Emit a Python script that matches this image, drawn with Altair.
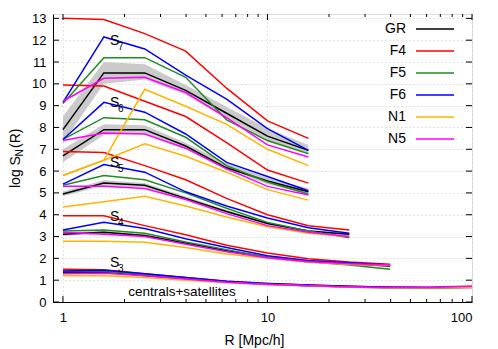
import altair as alt
import pandas as pd
import numpy as np

# ---------------- data ----------------
R = [1.0, 1.585, 2.512, 3.981, 6.310, 10.0, 15.85, 25.12, 39.81, 63.10, 100.0]
MODELS = ["GR", "F4", "F5", "F6", "N1", "N5"]
COLORS = ["#000000", "#ff0000", "#228b22", "#0000ff", "#ffb400", "#ff00ff"]
GROUPS = ["S3", "S4", "S5", "S6", "S7"]

# S7 (R = 1 .. 15.85)
S7_GR = [7.9, 10.5, 10.5, 9.7, 8.65, 7.6, 6.95]
S7_F4 = [13.0, 12.95, 12.3, 11.5, 9.8, 8.3, 7.5]
S7_F5 = [9.1, 11.2, 11.2, 10.3, 8.35, 7.4, 6.8]
S7_F6 = [9.15, 12.15, 11.6, 10.4, 9.3, 7.95, 6.95]
S7_N1 = [5.8, 6.5, 9.75, 8.97, 8.14, 7.0, 6.25]
S7_N5 = [9.2, 10.25, 10.3, 9.6, 8.45, 7.2, 6.65]
S7_LO = [7.3, 10.0, 10.2, 9.5, 8.4, 7.35, 6.75]
S7_HI = [8.5, 11.0, 10.9, 9.95, 8.95, 7.95, 7.2]

# S6 (R = 1 .. 15.85)
S6_GR = [6.7, 7.9, 7.9, 7.15, 6.15, 5.55, 5.05]
S6_F4 = [9.95, 9.9, 9.2, 8.5, 7.3, 6.05, 5.45]
S6_F5 = [7.45, 8.45, 8.35, 7.55, 6.25, 5.5, 4.95]
S6_F6 = [7.45, 9.15, 8.7, 7.7, 6.4, 5.75, 5.1]
S6_N1 = [5.8, 6.5, 7.25, 6.68, 5.95, 5.15, 4.67]
S6_N5 = [7.4, 7.75, 7.7, 7.05, 6.1, 5.3, 4.9]
S6_LO = [6.4, 7.65, 7.7, 7.0, 6.05, 5.4, 4.95]
S6_HI = [7.0, 8.15, 8.1, 7.3, 6.35, 5.7, 5.2]

# S5 (R = 1 .. 25.12)
S5_GR = [4.95, 5.45, 5.35, 4.75, 4.15, 3.6, 3.25, 3.1]
S5_F4 = [6.9, 6.85, 6.25, 5.6, 4.75, 4.0, 3.5, 3.3]
S5_F5 = [5.35, 5.8, 5.6, 5.0, 4.3, 3.65, 3.25, 2.95]
S5_F6 = [5.4, 6.3, 5.95, 5.05, 4.4, 3.85, 3.4, 3.15]
S5_N1 = [4.35, 4.6, 4.85, 4.4, 3.9, 3.45, 3.15, 3.0]
S5_N5 = [5.3, 5.3, 5.2, 4.7, 4.05, 3.5, 3.2, 3.0]
S5_LO = [4.85, 5.33, 5.25, 4.67, 4.08, 3.54, 3.2, 3.03]
S5_HI = [5.07, 5.58, 5.45, 4.83, 4.22, 3.66, 3.3, 3.17]

# S4 (R = 1 .. 39.81)
S4_GR = [3.1, 3.2, 3.05, 2.7, 2.35, 2.05, 1.85, 1.75, 1.65]
S4_F4 = [3.95, 3.95, 3.5, 3.08, 2.6, 2.25, 1.98, 1.83, 1.73]
S4_F5 = [3.25, 3.3, 3.15, 2.75, 2.4, 2.05, 1.85, 1.7, 1.5]
S4_F6 = [3.3, 3.65, 3.37, 2.9, 2.5, 2.12, 1.9, 1.8, 1.7]
S4_N1 = [2.78, 2.78, 2.74, 2.5, 2.2, 2.0, 1.82, 1.72, 1.68]
S4_N5 = [3.2, 3.1, 3.0, 2.65, 2.3, 2.03, 1.85, 1.75, 1.7]
S4_LO = [3.03, 3.13, 2.99, 2.65, 2.31, 2.01, 1.81, 1.7, 1.59]
S4_HI = [3.17, 3.27, 3.11, 2.75, 2.39, 2.09, 1.89, 1.8, 1.71]

# S3 (R = 1 .. 100), centrals+satellites
S3_GR = [1.35, 1.38, 1.22, 1.06, 0.92, 0.82, 0.75, 0.70, 0.66, 0.65, 0.70]
S3_F4 = [1.50, 1.48, 1.30, 1.12, 0.95, 0.85, 0.78, 0.72, 0.68, 0.66, 0.70]
S3_F5 = [1.40, 1.40, 1.25, 1.08, 0.92, 0.82, 0.75, 0.69, 0.64, 0.63, 0.68]
S3_F6 = [1.42, 1.45, 1.30, 1.12, 0.95, 0.85, 0.78, 0.72, 0.68, 0.66, 0.70]
S3_N1 = [1.20, 1.20, 1.12, 1.00, 0.88, 0.80, 0.74, 0.68, 0.64, 0.64, 0.68]
S3_N5 = [1.30, 1.32, 1.20, 1.05, 0.90, 0.80, 0.74, 0.69, 0.67, 0.66, 0.72]
S3_LO = [1.30, 1.33, 1.17, 1.02, 0.88, 0.78, 0.71, 0.66, 0.61, 0.58, 0.58]
S3_HI = [1.40, 1.43, 1.27, 1.10, 0.96, 0.86, 0.79, 0.74, 0.71, 0.72, 0.80]

LABEL_R = 1.697
LABEL_Y = {"S3": 1.78, "S4": 3.89, "S5": 6.36, "S6": 9.12, "S7": 11.96}
CS_TEXT = "centrals+satellites"

# ---------------- tables ----------------
g = globals()
rows, band = [], []
for grp in GROUPS:
    for m in MODELS:
        vals = g[f"{grp}_{m}"]
        for r, v in zip(R, vals):
            rows.append({"group": grp, "model": m, "R": r, "v": v})
    for r, lo, hi in zip(R, g[f"{grp}_LO"], g[f"{grp}_HI"]):
        band.append({"group": grp, "R": r, "lo": lo, "hi": hi})
df = pd.DataFrame(rows)
dband = pd.DataFrame(band)

W, H = 419, 288
FONT = "Liberation Sans"

xscale = alt.Scale(type="log", domain=[0.894, 100], nice=False)
yscale = alt.Scale(domain=[0, 13.2], nice=False, zero=False)

xaxis = alt.Axis(values=[1, 10, 100], format=".0f", ticks=False, tickSize=0,
                 labelPadding=9, labelFontSize=13, labelColor="black",
                 grid=True, gridColor="#c8c8c8", gridDash=[1, 3],
                 domainColor="black", title="R [Mpc/h]", titleFontSize=14,
                 titleFontWeight="normal", titleColor="black",
                 titleX=201, titleY=38, titleBaseline="middle", labelFont=FONT,
                 titleFont=FONT)
yaxis = alt.Axis(values=list(range(0, 14)), ticks=False, tickSize=0,
                 labelPadding=7, labelFontSize=13, labelColor="black",
                 grid=True, gridColor="#c8c8c8", gridDash=[1, 3],
                 domainColor="black", title=None, labelFont=FONT)

X = lambda f: alt.X(f, type="quantitative", scale=xscale, axis=xaxis)
Y = lambda f: alt.Y(f, type="quantitative", scale=yscale, axis=yaxis)

layers = []
layers.append(
    alt.Chart(dband).mark_area(color="#c4c4c4", opacity=0.9).encode(
        x=X("R"), y=Y("lo"), y2="hi", detail="group:N")
)
for m, c in zip(MODELS, COLORS):
    layers.append(
        alt.Chart(df[df.model == m]).mark_line(color=c, strokeWidth=1.5).encode(
            x=X("R"), y=Y("v"), detail="group:N", order="R:Q")
    )

# S_N annotations
lab = pd.DataFrame({"R": [LABEL_R] * len(GROUPS), "y": [LABEL_Y[k] for k in GROUPS],
                    "sub": [k[1] for k in GROUPS]})
layers.append(alt.Chart(lab).mark_text(text="S", align="left", baseline="middle",
                                       fontSize=14, font=FONT, color="black").encode(
    x=X("R"), y=Y("y")))
layers.append(alt.Chart(lab).mark_text(align="left", baseline="middle", dx=8, dy=6,
                                       fontSize=10, font=FONT, color="black").encode(
    x=X("R"), y=Y("y"), text="sub:N"))
cs = pd.DataFrame({"R": [3.82], "y": [0.44], "t": [CS_TEXT]})
layers.append(alt.Chart(cs).mark_text(align="center", baseline="middle", fontSize=13.5,
                                      font=FONT, color="black").encode(
    x=X("R"), y=Y("y"), text="t:N"))

# legend (manual: label left, line right)
one = pd.DataFrame({"a": [0]})
for i, (m, c) in enumerate(zip(MODELS, COLORS)):
    ly = 15 + 22 * i
    layers.append(alt.Chart(one).mark_text(text=m, align="right", baseline="middle",
                                           fontSize=14, font=FONT, color="black").encode(
        x=alt.value(353), y=alt.value(ly)))
    layers.append(alt.Chart(one).mark_rule(color=c, strokeWidth=1.5).encode(
        x=alt.value(363), x2=alt.value(401), y=alt.value(ly)))

# inward ticks on all four sides
major_x = pd.DataFrame({"R": [1, 10, 100]})
minor_x = pd.DataFrame({"R": [2, 3, 4, 5, 6, 7, 8, 9, 20, 30, 40, 50, 60, 70, 80, 90]})
yt = pd.DataFrame({"y": list(range(0, 14))})
for d, L in ((major_x, 6), (minor_x, 3)):
    layers.append(alt.Chart(d).mark_rule(color="black", strokeWidth=1).encode(
        x=X("R"), y=alt.value(H), y2=alt.value(H - L)))
    layers.append(alt.Chart(d).mark_rule(color="black", strokeWidth=1).encode(
        x=X("R"), y=alt.value(0), y2=alt.value(L)))
layers.append(alt.Chart(yt).mark_rule(color="black", strokeWidth=1).encode(
    y=Y("y"), x=alt.value(0), x2=alt.value(6)))
layers.append(alt.Chart(yt).mark_rule(color="black", strokeWidth=1).encode(
    y=Y("y"), x=alt.value(W - 6), x2=alt.value(W)))

# y title "log S_N(R)" with subscript
layers.append(alt.Chart(one).mark_text(text="log S", angle=270, align="left",
                                       baseline="alphabetic", fontSize=14, font=FONT,
                                       color="black").encode(
    x=alt.value(-33.5), y=alt.value(174)))
layers.append(alt.Chart(one).mark_text(text="N", angle=270, align="left",
                                       baseline="alphabetic", fontSize=10, font=FONT,
                                       color="black").encode(
    x=alt.value(-30), y=alt.value(142.5)))
layers.append(alt.Chart(one).mark_text(text="(R)", angle=270, align="left",
                                       baseline="alphabetic", fontSize=14, font=FONT,
                                       color="black").encode(
    x=alt.value(-33.5), y=alt.value(134)))

chart = alt.layer(*layers).properties(
    width=W, height=H,
    autosize=alt.AutoSizeParams(type="none"),
    padding={"left": 45, "top": 6, "right": 18, "bottom": 46},
).configure_view(stroke="black", strokeWidth=1).configure(background="white")

chart.save("out.html", embed_options={"renderer": "svg", "actions": False})
